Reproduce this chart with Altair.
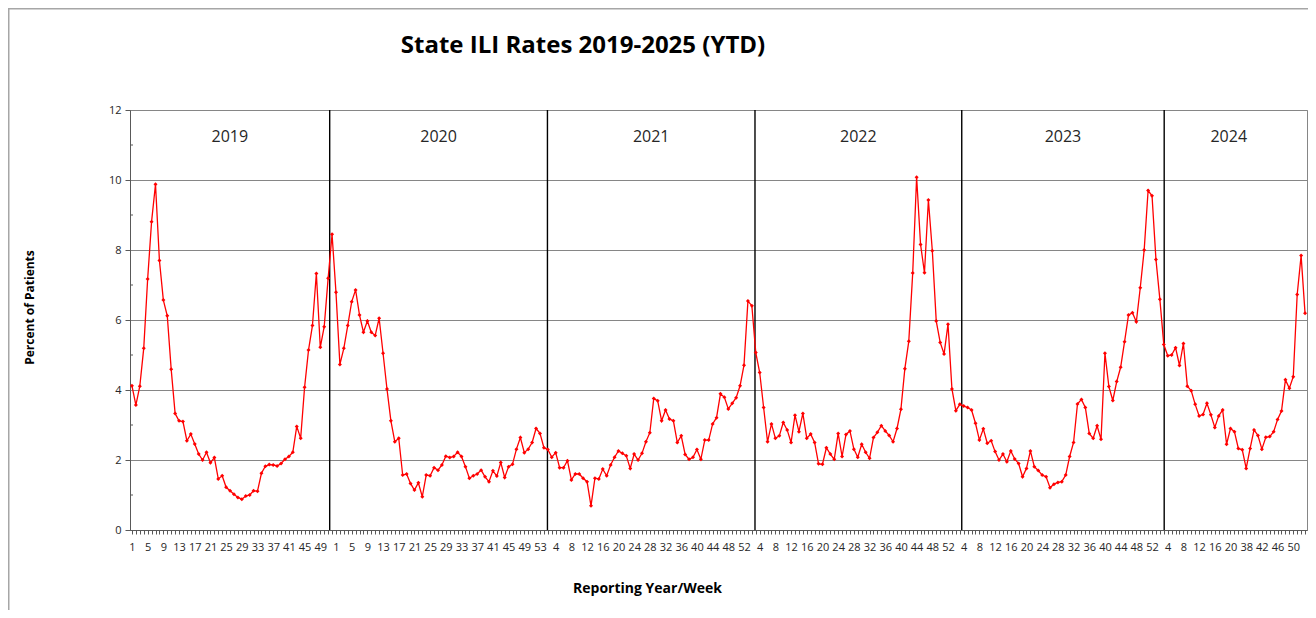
import altair as alt
import pandas as pd

# ---------------- data ----------------
years = ["2019", "2020", "2021", "2022", "2023", "2024"]

weeks_2019 = list(range(1, 53))
weeks_2020 = list(range(1, 54))
weeks_2021 = list(range(1, 53))
weeks_2022 = list(range(1, 53))
weeks_2023 = list(range(1, 53))
weeks_2024 = list(range(1, 21)) + [35, 36, 37] + list(range(38, 54))

ili_2019 = [4.12, 3.57, 4.11, 5.19, 7.17, 8.81, 9.88, 7.70, 6.57, 6.12,
            4.59, 3.33, 3.12, 3.10, 2.55, 2.74, 2.46, 2.17, 2.00, 2.22,
            1.92, 2.07, 1.46, 1.55, 1.22, 1.12, 1.02, 0.93, 0.88, 0.97,
            1.00, 1.12, 1.11, 1.62, 1.82, 1.87, 1.86, 1.83, 1.90, 2.02,
            2.10, 2.22, 2.96, 2.62, 4.08, 5.14, 5.84, 7.33, 5.22, 5.81,
            7.19, 8.45]
ili_2020 = [6.79, 4.73, 5.19, 5.84, 6.52, 6.86, 6.14, 5.65, 5.97, 5.65,
            5.56, 6.05, 5.05, 4.03, 3.12, 2.52, 2.62, 1.57, 1.60, 1.33,
            1.14, 1.35, 0.95, 1.57, 1.55, 1.78, 1.71, 1.86, 2.11, 2.07,
            2.10, 2.22, 2.10, 1.81, 1.48, 1.55, 1.60, 1.71, 1.52, 1.38,
            1.69, 1.54, 1.93, 1.50, 1.81, 1.88, 2.31, 2.64, 2.21, 2.31,
            2.50, 2.90, 2.76]
ili_2021 = [2.35, 2.30, 2.08, 2.21, 1.78, 1.78, 1.98, 1.43, 1.60, 1.60,
            1.48, 1.38, 0.69, 1.48, 1.46, 1.74, 1.55, 1.86, 2.08, 2.26,
            2.19, 2.12, 1.76, 2.17, 2.00, 2.19, 2.52, 2.78, 3.76, 3.69,
            3.12, 3.43, 3.17, 3.12, 2.50, 2.69, 2.16, 2.02, 2.08, 2.30,
            2.02, 2.57, 2.57, 3.03, 3.21, 3.89, 3.79, 3.46, 3.62, 3.78,
            4.12, 4.71]
ili_2022 = [6.54, 6.41, 5.07, 4.50, 3.50, 2.52, 3.03, 2.62, 2.69, 3.07,
            2.86, 2.50, 3.28, 2.81, 3.33, 2.62, 2.74, 2.50, 1.89, 1.88,
            2.35, 2.17, 2.02, 2.76, 2.10, 2.73, 2.83, 2.31, 2.08, 2.45,
            2.22, 2.05, 2.64, 2.79, 2.98, 2.83, 2.70, 2.52, 2.90, 3.45,
            4.61, 5.39, 7.34, 10.08, 8.16, 7.35, 9.43, 7.98, 5.97, 5.36,
            5.03, 5.88]
ili_2023 = [4.03, 3.41, 3.59, 3.54, 3.50, 3.43, 3.05, 2.57, 2.89, 2.48,
            2.55, 2.24, 2.00, 2.17, 1.95, 2.26, 2.03, 1.90, 1.52, 1.76,
            2.26, 1.81, 1.70, 1.57, 1.52, 1.21, 1.31, 1.36, 1.38, 1.57,
            2.10, 2.50, 3.60, 3.73, 3.50, 2.76, 2.62, 2.98, 2.59, 5.05,
            4.10, 3.70, 4.24, 4.65, 5.38, 6.14, 6.21, 5.95, 6.92, 8.00,
            9.70, 9.55]
ili_2024 = [7.73, 6.59, 5.30, 4.98, 5.00, 5.21, 4.70, 5.33, 4.11, 3.98,
            3.59, 3.26, 3.30, 3.62, 3.29, 2.93, 3.26, 3.43, 2.45, 2.90,
            2.81, 2.33, 2.29, 1.76, 2.33, 2.86, 2.70, 2.31, 2.65, 2.67,
            2.81, 3.16, 3.40, 4.29, 4.05, 4.38, 6.73, 7.84, 6.19]

# positions (in week-index units) of the hand-drawn year separators
divider_idx = [50.4, 105.9, 158.8, 211.5, 263.1]

y_major = [0, 2, 4, 6, 8, 10, 12]
y_minor = [1, 3, 5, 7, 9, 11]

# ---------------- tables ----------------
rows = []
idx = 0
for yr, wks, vals in zip(years,
                         [weeks_2019, weeks_2020, weeks_2021, weeks_2022, weeks_2023, weeks_2024],
                         [ili_2019, ili_2020, ili_2021, ili_2022, ili_2023, ili_2024]):
    for w, v in zip(wks, vals):
        rows.append({"i": idx, "year": yr, "week": w, "rate": v})
        idx += 1
df = pd.DataFrame(rows)
N = len(df)

div_df = pd.DataFrame({"pos": divider_idx, "lo": 0, "hi": 12})
edges = [-0.5] + divider_idx + [((N - 1) // 4) * 4]
lab_df = pd.DataFrame({"year": years,
                       "pos": [(edges[k] + edges[k + 1]) / 2 for k in range(len(years))],
                       "yy": 11.23})
minor_df = pd.DataFrame({"v": y_minor})

FONT = "Open Sans"
GRID = "#868686"
AXIS = "#595959"
LABEL = "#262626"

week_array = "[" + ",".join(str(w) for w in df["week"]) + "]"

x_scale = alt.Scale(domain=[-0.5, N - 0.5], nice=False, zero=False)
y_scale = alt.Scale(domain=[0, 12], nice=False, zero=True)

x_axis = alt.Axis(
    values=list(range(N)), tickCount=1000,
    labelExpr=f"round(datum.value) % 4 == 0 ? '' + {week_array}[round(datum.value)] : ''",
    labelOverlap=False, labelFlush=False, labelBound=False,
    grid=False, tickSize=4, tickColor=AXIS, domainColor=AXIS,
    labelPadding=7, labelFont=FONT, labelFontSize=11, labelColor=LABEL,
    titleFont=FONT, titleFontSize=14, titleFontWeight="bold", titleColor="black",
    titleX=517, titleY=58, titleBaseline="middle", titleAlign="center",
)
y_axis = alt.Axis(
    values=y_major, grid=True, gridColor=GRID,
    tickSize=5, tickColor=AXIS, domainColor=AXIS, labelPadding=4,
    labelFont=FONT, labelFontSize=11, labelColor=LABEL,
    titleFont=FONT, titleFontSize=12, titleFontWeight="bold", titleColor="black",
    titleX=-101, titleY=197, titleAngle=270, titleAlign="center", titleBaseline="middle",
)

base = alt.Chart(df)

line = base.mark_line(color="#FF0000", strokeWidth=1.3).encode(
    x=alt.X("i:Q", scale=x_scale, axis=x_axis, title="Reporting Year/Week"),
    y=alt.Y("rate:Q", scale=y_scale, axis=y_axis, title="Percent of Patients"),
)
pts = base.mark_point(filled=True, shape="diamond", size=16, color="#FF0000", opacity=1).encode(
    x="i:Q", y="rate:Q"
)

# minor ticks inside the y axis at odd values
y_minor_ticks = alt.Chart(minor_df).mark_rule(color=AXIS, strokeWidth=1, x2Offset=3).encode(
    y="v:Q", x=alt.datum(-0.5), x2=alt.datum(-0.5)
)

dividers = alt.Chart(div_df).mark_rule(color="black", strokeWidth=1.4).encode(
    x="pos:Q", y="lo:Q", y2="hi:Q"
)

year_labels = alt.Chart(lab_df).mark_text(
    font=FONT, fontSize=16, color="#262626", baseline="middle", align="center"
).encode(x="pos:Q", y="yy:Q", text="year:N")

frame = alt.Chart(pd.DataFrame({"a": [0]})).mark_rect(
    fill="transparent", stroke="#A6A6A6", strokeWidth=1.5
).encode(x=alt.value(-121.25), y=alt.value(-101.25), x2=alt.value(3000), y2=alt.value(3000))

chart = alt.layer(frame, y_minor_ticks, dividers, line, pts, year_labels).properties(
    width=1177, height=420,
    autosize=alt.AutoSizeParams(type="none"),
    padding={"left": 122, "top": 102, "right": 1, "bottom": 80},
    title=alt.TitleParams(
        "State ILI Rates 2019-2025 (YTD)", font=FONT, fontSize=24, fontWeight="bold",
        color="black", anchor="middle", frame="group", dx=-135.5, dy=124, offset=55,
        baseline="alphabetic",
    ),
    background="white",
).configure_view(stroke=GRID, strokeWidth=1)

chart.save("out.html", embed_options={"renderer": "svg", "actions": False})
